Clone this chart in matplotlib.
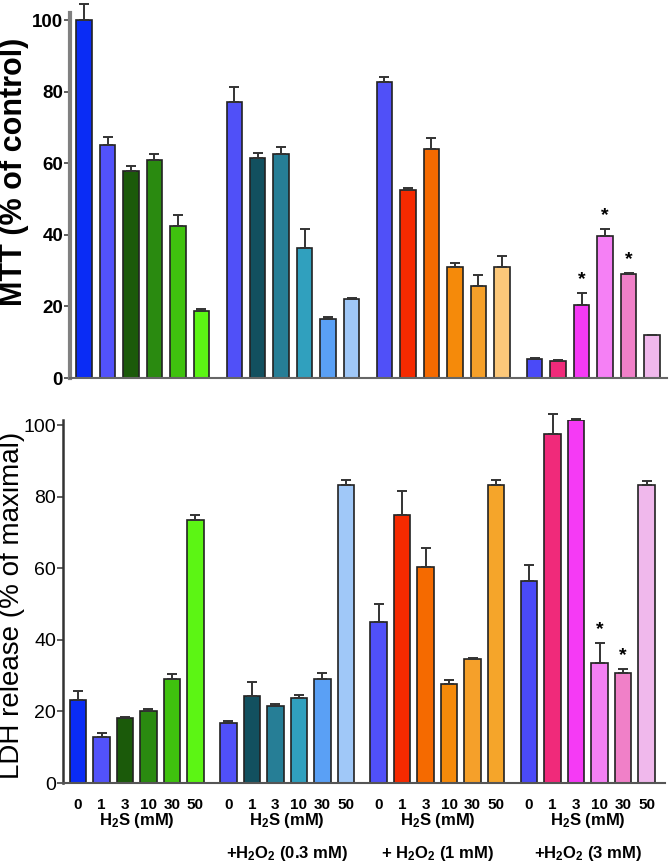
import matplotlib
matplotlib.use('Agg')
import matplotlib.pyplot as plt
import numpy as np

plt.rcParams['font.family'] = ['Liberation Sans', 'DejaVu Sans']
plt.rcParams['mathtext.fontset'] = 'custom'
plt.rcParams['mathtext.rm'] = 'Liberation Sans:bold'
plt.rcParams['mathtext.default'] = 'rm'

# data
doses = ['0', '1', '3', '10', '30', '50']
group_labels = ['', '+H$_2$O$_2$ (0.3 mM)', '+ H$_2$O$_2$ (1 mM)', '+H$_2$O$_2$ (3 mM)']

mtt_mean = [
    [100.0, 65.1, 57.9, 60.8, 42.5, 18.8],
    [77.0, 61.5, 62.5, 36.2, 16.5, 22.0],
    [82.6, 52.5, 63.9, 31.0, 25.8, 31.1],
    [5.3, 4.7, 20.4, 39.7, 29.1, 12.0],
]
mtt_err = [
    [4.5, 2.3, 1.4, 1.7, 3.0, 0.4],
    [4.2, 1.5, 2.0, 5.3, 0.5, 0.4],
    [1.6, 0.6, 3.2, 1.2, 3.0, 3.0],
    [0.3, 0.3, 3.4, 2.0, 0.3, 0.0],
]
mtt_star = [(3, 2), (3, 3), (3, 4)]

ldh_mean = [
    [23.2, 12.9, 18.2, 20.2, 29.0, 73.5],
    [16.8, 24.3, 21.5, 23.7, 29.2, 83.2],
    [45.1, 75.0, 60.4, 27.8, 34.6, 83.2],
    [56.5, 97.6, 101.4, 33.4, 30.8, 83.2],
]
ldh_err = [
    [2.6, 1.1, 0.3, 0.5, 1.4, 1.4],
    [0.5, 3.8, 0.7, 0.8, 1.5, 1.4],
    [4.8, 6.6, 5.3, 1.1, 0.4, 1.4],
    [4.5, 5.5, 0.3, 5.8, 1.2, 1.3],
]
ldh_star = [(3, 3), (3, 4)]

colors_mtt = [
    ['#0a2cf5', '#5252fa', '#1b5a0a', '#2a8a10', '#3fc20e', '#5cf514'],
    ['#5050f8', '#12505f', '#267e96', '#30a0be', '#5aa0f5', '#a0c8f8'],
    ['#5050f8', '#f52a00', '#f56a00', '#f58a0a', '#f5a02a', '#fcc87a'],
    ['#4a4af8', '#f02a7a', '#f53af5', '#f580f5', '#f080c8', '#f0b8ec'],
]
colors_ldh = [row[:] for row in colors_mtt]
colors_ldh[2][5] = '#f5a52a'

GAP = 0.4


def positions():
    return np.array([[g * (6 + GAP) + i for i in range(6)] for g in range(4)])


def draw_panel(ax, means, errs, colors, stars, width):
    pos = positions()
    for g in range(4):
        m = np.array(means[g])
        e = np.array(errs[g])
        ax.bar(pos[g], m, width=width, color=colors[g], edgecolor='#222222',
               linewidth=1.2, zorder=2)
        ax.errorbar(pos[g], m, yerr=[np.zeros(6), e], fmt='none', ecolor='#333333',
                    elinewidth=1.4, capsize=3.5, capthick=1.4, zorder=3, clip_on=False)
    for g, i in stars:
        ax.text(pos[g][i], means[g][i] + errs[g][i] + 1.2, '*', ha='center',
                va='bottom', fontsize=14, fontweight='bold')


fig = plt.figure(figsize=(6.7, 8.66), dpi=100)

# top panel: MTT
ax1 = fig.add_axes([0.1045, 0.5635, 0.891, 0.4215])
draw_panel(ax1, mtt_mean, mtt_err, colors_mtt, mtt_star, 0.66)
ax1.set_ylim(0, 102)
ax1.set_xlim(-0.6, 24.84)
ax1.set_yticks([0, 20, 40, 60, 80, 100])
ax1.set_xticks([])
for s in ['top', 'right']:
    ax1.spines[s].set_visible(False)
ax1.spines['left'].set_color('#808080')
ax1.spines['left'].set_linewidth(3)
ax1.spines['bottom'].set_color('#666666')
ax1.spines['bottom'].set_linewidth(1.5)
ax1.tick_params(axis='y', length=4, width=1.2, color='#444444', labelsize=13.5, pad=1)
for lab in ax1.get_yticklabels():
    lab.set_fontweight('bold')
ax1.set_ylabel('MTT (% of control)', fontsize=22, fontweight='bold')
ax1.yaxis.set_label_coords(-0.068, 0.565)

# bottom panel: LDH
ax2 = fig.add_axes([0.094, 0.0958, 0.899, 0.4195])
draw_panel(ax2, ldh_mean, ldh_err, colors_ldh, ldh_star, 0.7)
ax2.set_ylim(0, 101.5)
ax2.set_xlim(-0.64, 25.0)
ax2.set_yticks([0, 20, 40, 60, 80, 100])
for s in ['top', 'right']:
    ax2.spines[s].set_visible(False)
ax2.spines['left'].set_color('#333333')
ax2.spines['left'].set_linewidth(1.8)
ax2.spines['bottom'].set_color('#555555')
ax2.spines['bottom'].set_linewidth(1.5)
ax2.tick_params(axis='y', length=4, width=1.2, color='#444444', labelsize=14, pad=1)
ax2.set_ylabel('LDH release (% of maximal)', fontsize=20)
ax2.yaxis.set_label_coords(-0.063, 0.49)

pos = positions()
ax2.set_xticks(pos.ravel())
ax2.set_xticklabels(doses * 4, fontsize=11, fontweight='bold')
ax2.tick_params(axis='x', length=0, pad=11)
for g in range(4):
    xc = pos[g].mean()
    ax2.annotate('H$_2$S (mM)', xy=(xc, 0), xycoords=('data', 'axes fraction'),
                 xytext=(0, -27), textcoords='offset points', ha='center', va='center',
                 fontsize=12, fontweight='bold')
    if group_labels[g]:
        ax2.annotate(group_labels[g], xy=(xc, 0), xycoords=('data', 'axes fraction'),
                     xytext=(0, -51), textcoords='offset points', ha='center',
                     va='center', fontsize=12, fontweight='bold')

fig.savefig('out.png', dpi=100)
